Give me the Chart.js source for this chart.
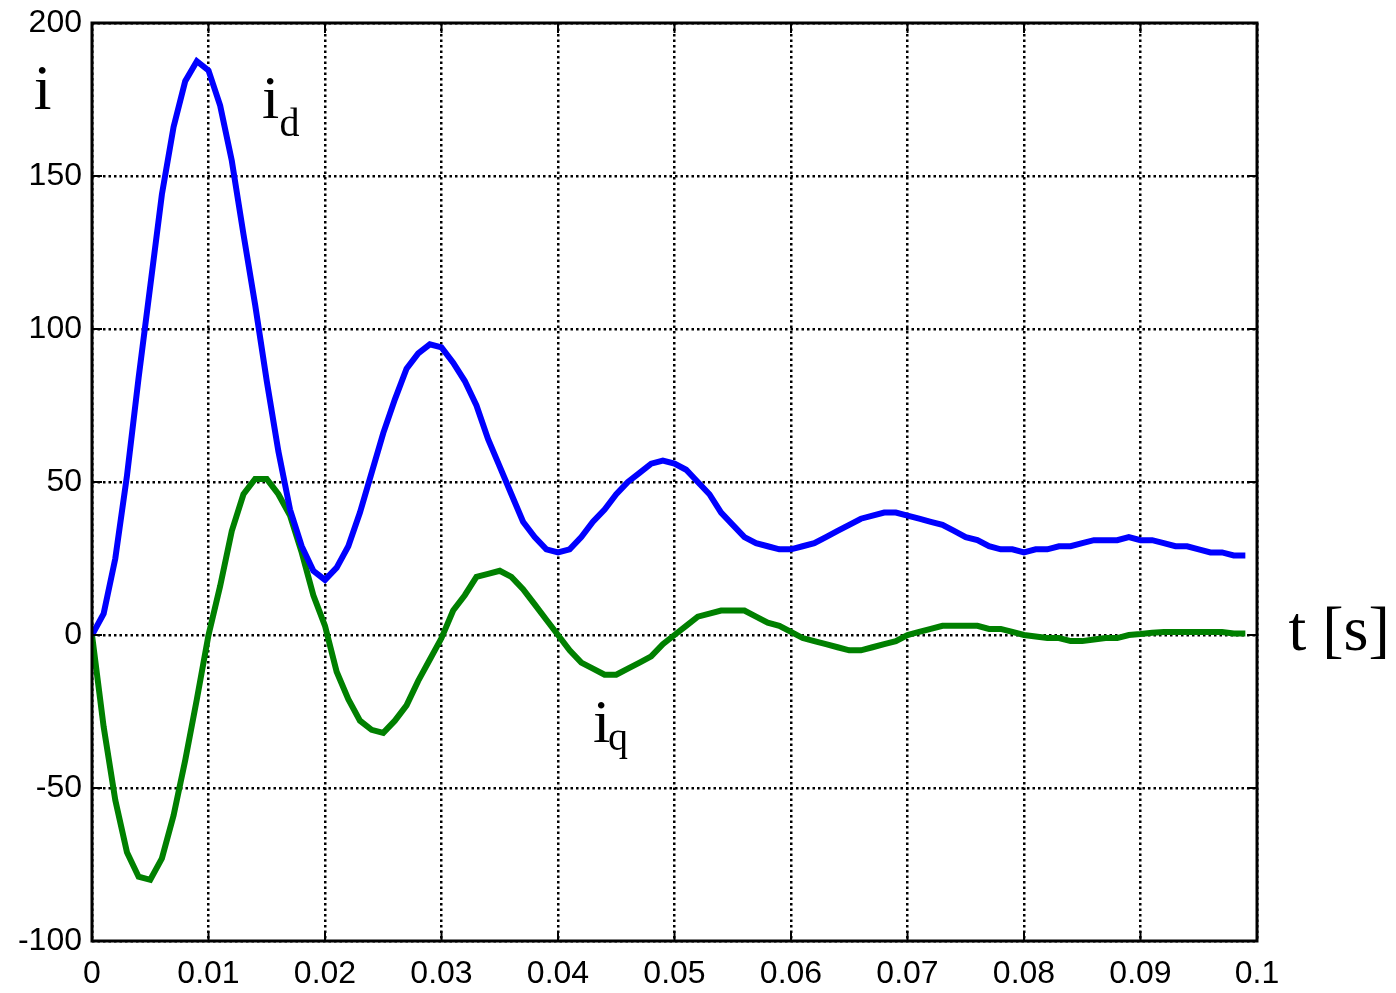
<!DOCTYPE html>
<html>
<head>
<meta charset="utf-8">
<script src="https://cdn.jsdelivr.net/npm/chart.js@4/dist/chart.umd.min.js"></script>
<style>
  html, body { margin: 0; padding: 0; background: #fff; }
  #wrap { width: 1396px; height: 993px; position: relative; }
</style>
</head>
<body>
<div id="wrap"><canvas id="currentChart"></canvas></div>
<script>
// time samples [s]
const timeValues = [
  0.000, 0.001, 0.002, 0.003, 0.004, 0.005, 0.006, 0.007, 0.008, 0.009,
  0.010, 0.011, 0.012, 0.013, 0.014, 0.015, 0.016, 0.017, 0.018, 0.019,
  0.020, 0.021, 0.022, 0.023, 0.024, 0.025, 0.026, 0.027, 0.028, 0.029,
  0.030, 0.031, 0.032, 0.033, 0.034, 0.035, 0.036, 0.037, 0.038, 0.039,
  0.040, 0.041, 0.042, 0.043, 0.044, 0.045, 0.046, 0.047, 0.048, 0.049,
  0.050, 0.051, 0.052, 0.053, 0.054, 0.055, 0.056, 0.057, 0.058, 0.059,
  0.060, 0.061, 0.062, 0.063, 0.064, 0.065, 0.066, 0.067, 0.068, 0.069,
  0.070, 0.071, 0.072, 0.073, 0.074, 0.075, 0.076, 0.077, 0.078, 0.079,
  0.080, 0.081, 0.082, 0.083, 0.084, 0.085, 0.086, 0.087, 0.088, 0.089,
  0.090, 0.091, 0.092, 0.093, 0.094, 0.095, 0.096, 0.097, 0.098, 0.099
];

// d-axis current
const idValues = [
  0, 7, 25, 52, 84, 114, 144, 166, 181, 187.5,
  184.5, 173, 155, 131, 108, 83, 60, 41, 29, 21,
  18, 22, 29, 40, 53, 66, 77, 87, 92, 95,
  94, 89, 83, 75, 64, 55, 46, 37, 32, 28,
  27, 28, 32, 37, 41, 46, 50, 53, 56, 57,
  56, 54, 50, 46, 40, 36, 32, 30, 29, 28,
  28, 29, 30, 32, 34, 36, 38, 39, 40, 40,
  39, 38, 37, 36, 34, 32, 31, 29, 28, 28,
  27, 28, 28, 29, 29, 30, 31, 31, 31, 32,
  31, 31, 30, 29, 29, 28, 27, 27, 26, 26
];

// q-axis current
const iqValues = [
  0, -30, -54, -71, -79, -80, -73, -59, -41, -21,
  0, 16, 34, 46, 51, 51, 46, 39, 27, 13,
  3, -12, -21, -28, -31, -32, -28, -23, -15, -8,
  -1, 8, 13, 19, 20, 21, 19, 15, 10, 5,
  0, -5, -9, -11, -13, -13, -11, -9, -7, -3,
  0, 3, 6, 7, 8, 8, 8, 6, 4, 3,
  1, -1, -2, -3, -4, -5, -5, -4, -3, -2,
  0, 1, 2, 3, 3, 3, 3, 2, 2, 1,
  0, -0.5, -1, -1, -2, -2, -1.5, -1, -1, 0,
  0.3, 0.7, 1, 1, 1, 1, 1, 1, 0.5, 0.5
];

const xTickLabels = ['0', '0.01', '0.02', '0.03', '0.04', '0.05', '0.06', '0.07', '0.08', '0.09', '0.1'];
const yTickLabels = ['-100', '-50', '0', '50', '100', '150', '200'];

// text labels placed in data units
const notes = [
  { text: 'i', t: -0.0050, v: 172, size: 64 },
  { text: 'i', t: 0.0146, v: 169, size: 62 },
  { text: 'd', t: 0.0161, v: 163, size: 40 },
  { text: 'i', t: 0.0430, v: -35, size: 62 },
  { text: 'q', t: 0.0443, v: -37.5, size: 40 },
  { text: 't [s]', t: 0.1027, v: -5, size: 64 }
];

const toPoints = (ys) => timeValues.map((t, i) => ({ x: t, y: ys[i] }));

// matlab style box, inner ticks and text
const boxPlugin = {
  id: 'box',
  afterDraw(chart) {
    const { ctx, chartArea: a, scales } = chart;
    ctx.save();
    ctx.strokeStyle = '#000';
    ctx.lineWidth = 2;
    ctx.setLineDash([]);
    const tl = 10;
    scales.x.ticks.forEach(tk => {
      const px = scales.x.getPixelForValue(tk.value);
      ctx.beginPath();
      ctx.moveTo(px, a.bottom); ctx.lineTo(px, a.bottom - tl);
      ctx.moveTo(px, a.top); ctx.lineTo(px, a.top + tl);
      ctx.stroke();
    });
    scales.y.ticks.forEach(tk => {
      const py = scales.y.getPixelForValue(tk.value);
      ctx.beginPath();
      ctx.moveTo(a.left, py); ctx.lineTo(a.left + tl, py);
      ctx.moveTo(a.right, py); ctx.lineTo(a.right - tl, py);
      ctx.stroke();
    });
    ctx.lineWidth = 3;
    ctx.strokeRect(a.left, a.top, a.right - a.left, a.bottom - a.top);

    ctx.fillStyle = '#000';
    ctx.textBaseline = 'alphabetic';
    ctx.textAlign = 'left';
    notes.forEach(n => {
      ctx.font = n.size + 'px "Liberation Serif", "DejaVu Serif", serif';
      ctx.fillText(n.text, scales.x.getPixelForValue(n.t), scales.y.getPixelForValue(n.v));
    });
    ctx.restore();
  }
};

const ctx = document.getElementById('currentChart').getContext('2d');
new Chart(ctx, {
  type: 'line',
  data: {
    datasets: [{
      label: 'id',
      data: toPoints(idValues),
      borderColor: '#0000ff',
      borderWidth: 6,
      pointRadius: 0,
      tension: 0
    }, {
      label: 'iq',
      data: toPoints(iqValues),
      borderColor: '#008000',
      borderWidth: 6,
      pointRadius: 0,
      tension: 0
    }]
  },
  options: {
    responsive: true,
    maintainAspectRatio: false,
    animation: false,
    layout: {
      padding: { left: 0, top: 23, right: 139, bottom: 0 }
    },
    plugins: {
      legend: { display: false },
      tooltip: { enabled: false }
    },
    scales: {
      x: {
        type: 'linear',
        min: 0,
        max: 0.1,
        afterFit(scale) {
          scale.height = 52;
          scale.paddingLeft = 0;
          scale.paddingRight = 0;
        },
        ticks: {
          stepSize: 0.01,
          padding: 14,
          color: '#000',
          font: { family: '"Liberation Sans", Arial', size: 32 },
          maxRotation: 0,
          callback: (v, i) => xTickLabels[i]
        },
        grid: { color: '#000', lineWidth: 2.5, drawTicks: false },
        border: { display: false, dash: [2.5, 3] }
      },
      y: {
        min: -100,
        max: 200,
        afterFit(scale) {
          scale.width = 92;
          scale.paddingTop = 0;
          scale.paddingBottom = 0;
        },
        ticks: {
          stepSize: 50,
          padding: 10,
          color: '#000',
          font: { family: '"Liberation Sans", Arial', size: 32 },
          callback: (v, i) => yTickLabels[i]
        },
        grid: { color: '#000', lineWidth: 2.5, drawTicks: false },
        border: { display: false, dash: [2.5, 3] }
      }
    }
  },
  plugins: [boxPlugin]
});
</script>
</body>
</html>
